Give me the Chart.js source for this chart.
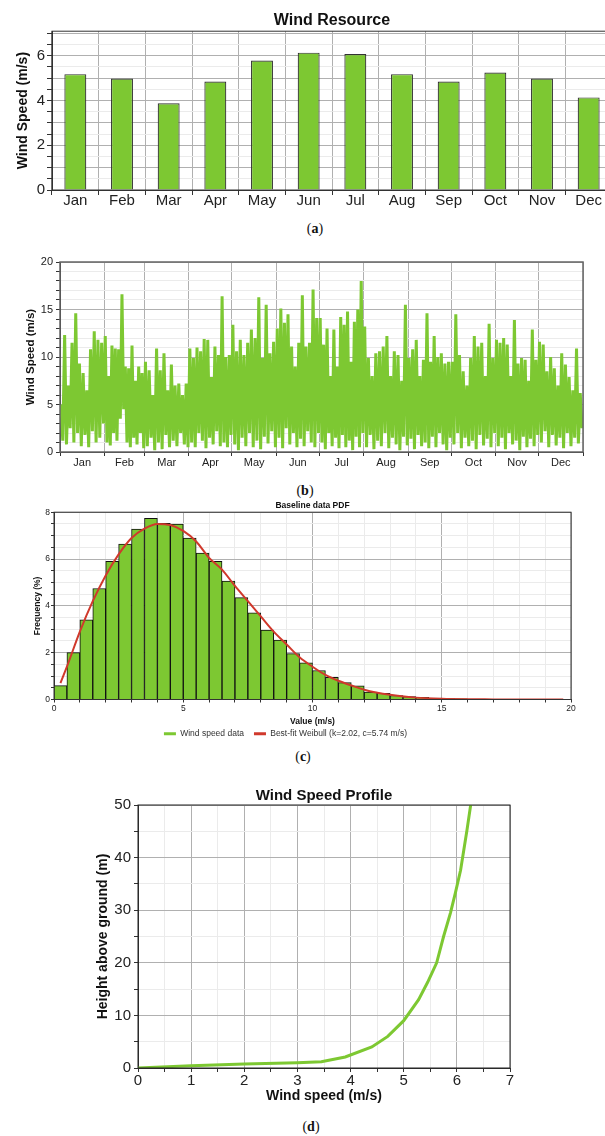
<!DOCTYPE html>
<html lang="en">
<head>
<meta charset="UTF-8">
<title>Wind resource</title>
<script src="https://cdn.jsdelivr.net/npm/chart.js@4.4.1/dist/chart.umd.min.js"></script>
<style>
    html, body { margin: 0; padding: 0; background: #fff; overflow: hidden; }
    body { width: 605px; height: 1136px; position: relative; }
    canvas { position: absolute; }
    .cap { position: absolute; transform: translateX(-50%); font: 14px "Liberation Serif", "DejaVu Serif", serif; color: #111; line-height: 18px; }
</style>
</head>
<body>
<canvas id="chartA" width="614" height="215" style="left:0;top:0"></canvas>
<div class="cap" style="left:315px;top:220px">(<b>a</b>)</div>
<canvas id="chartB" width="605" height="225" style="left:0;top:252px"></canvas>
<div class="cap" style="left:305px;top:482px">(<b>b</b>)</div>
<canvas id="chartC" width="605" height="253" style="left:0;top:495px"></canvas>
<div class="cap" style="left:303px;top:748px">(<b>c</b>)</div>
<canvas id="chartD" width="525" height="325" style="left:80px;top:780px"></canvas>
<div class="cap" style="left:311px;top:1118px">(<b>d</b>)</div>
<script>
    // (a) monthly mean wind speed
    var months = ['Jan', 'Feb', 'Mar', 'Apr', 'May', 'Jun', 'Jul', 'Aug', 'Sep', 'Oct', 'Nov', 'Dec'];
    var monthlyMean = [5.18, 4.98, 3.88, 4.85, 5.79, 6.14, 6.08, 5.18, 4.85, 5.25, 4.98, 4.14];

    // (b) time series, peaks and troughs read per month
    var monthStartDay = [0, 31, 59, 90, 120, 151, 181, 212, 243, 273, 304, 334, 365];
    var hourlySpeed = [
        [5, 1.2, 12.3, 0.8, 7, 2.5, 11.5, 1.0, 14.6, 2.0, 9.3, 0.6, 8.3, 1.8, 6.5, 0.5, 10.8, 2.2, 12.7, 1.0, 11.8, 1.5, 11.5, 3.0],
        [12.2, 1.0, 8, 0.7, 11.2, 2.0, 10.9, 1.2, 10.8, 3.5, 16.6, 4.5, 9, 1.0, 8.8, 0.5, 11.2, 1.5, 7.5, 0.8, 9.0, 2.0, 8.3, 0.4],
        [9.5, 0.6, 8.6, 1.5, 6, 0.2, 10.9, 1.0, 8.6, 0.3, 10.4, 1.8, 6.5, 0.5, 9.2, 1.2, 7.0, 0.6, 7.2, 2.0, 6, 0.8, 7.2, 0.5],
        [10.9, 1.0, 9.9, 0.5, 11.0, 2.0, 10.6, 1.2, 11.9, 0.4, 11.8, 1.5, 7.9, 0.8, 11.1, 2.2, 10.2, 0.6, 16.4, 1.0, 10.0, 0.5, 10.2, 1.8],
        [13.4, 0.8, 10.6, 0.2, 11.8, 1.5, 10.2, 0.6, 11.5, 2.0, 12.9, 0.5, 12.0, 1.2, 16.3, 0.3, 9.9, 1.6, 15.5, 0.9, 10.4, 2.2, 11.6, 0.5],
        [13.0, 1.5, 15.1, 0.4, 13.6, 2.5, 14.5, 0.8, 11.1, 2.0, 9, 0.5, 11.5, 1.4, 16.5, 0.6, 11.1, 2.2, 11.5, 1.0, 17.1, 0.5, 14.1, 2.0],
        [14.1, 1.0, 11.3, 0.3, 13.0, 2.0, 8, 0.6, 12.9, 1.5, 9, 0.4, 14.2, 1.8, 13.4, 0.5, 14.8, 1.2, 9.5, 0.2, 13.7, 1.6, 15.0, 0.5, 18.0, 2.0],
        [13.2, 0.5, 9.9, 1.8, 8, 0.3, 10.4, 1.2, 10.6, 0.6, 11.1, 2.0, 12.2, 0.4, 8, 1.5, 10.6, 0.8, 10.2, 0.2, 7.5, 1.6, 15.5, 0.7],
        [9.9, 1.4, 10.8, 0.3, 11.8, 1.8, 8, 0.6, 9.7, 1.0, 14.6, 0.4, 9.5, 1.6, 12.2, 0.5, 10.0, 2.0, 10.4, 0.8, 9.3, 0.2, 9.5, 1.5],
        [9.5, 0.8, 14.5, 2.0, 10.2, 0.4, 8.5, 1.5, 7, 0.6, 9.9, 1.2, 12.2, 0.3, 11.1, 1.8, 11.5, 0.7, 8, 1.4, 13.5, 0.5, 9.9, 2.0],
        [11.8, 0.6, 11.5, 1.5, 12.0, 0.3, 11.3, 2.0, 8, 0.8, 13.9, 1.2, 9.3, 0.2, 9.9, 1.6, 9.7, 0.5, 7.5, 1.4, 12.9, 0.6, 9.7, 1.8],
        [11.6, 1.0, 11.3, 2.2, 8.5, 0.5, 10.0, 1.8, 8.8, 0.7, 7, 1.5, 10.4, 0.4, 9.2, 2.0, 7.9, 0.6, 6.5, 1.5, 10.9, 0.9, 6.2, 2.5]
    ];

    // (c) histogram, 0.5 m/s bins from 0
    var binWidth = 0.5;
    var histFreq = [0.59, 2.0, 3.4, 4.74, 5.9, 6.64, 7.28, 7.74, 7.52, 7.49, 6.89, 6.25, 5.9, 5.06, 4.35, 3.7, 2.97, 2.54, 1.96, 1.57,
        1.24, 0.95, 0.72, 0.58, 0.32, 0.26, 0.17, 0.12, 0.09, 0.06, 0.04, 0.03, 0.02, 0.02];
    var weibullX = [0.25, 0.5, 1, 1.5, 2, 2.5, 3, 3.5, 4, 4.5, 5, 5.5, 6, 6.5, 7, 7.5, 8, 8.5, 9, 9.5, 10, 10.5, 11, 11.5, 12, 13, 14, 15, 16, 17, 18, 19.7];
    var weibullY = [0.7, 1.4, 2.9, 4.2, 5.3, 6.2, 6.9, 7.3, 7.5, 7.45, 7.2, 6.75, 6.05, 5.55, 4.85, 4.2, 3.55, 2.9, 2.35, 1.8, 1.4, 1.05, 0.8, 0.6, 0.42, 0.2, 0.08, 0.03, 0.01, 0.005, 0, 0];

    // (d) vertical profile
    var profSpeed = [0, 1, 2, 3, 3.45, 3.9, 4.4, 4.7, 5.0, 5.28, 5.45, 5.62, 5.75, 5.88, 5.97, 6.07, 6.13, 6.19, 6.26];
    var profHeight = [0, 0.45, 0.75, 1.0, 1.2, 2.1, 4.0, 6.0, 9.0, 13.0, 16.3, 20.0, 25.0, 29.5, 33.2, 37.6, 41.4, 45.2, 50];

    var GREEN = '#7dc832';
    var RED = '#d0392c';
    Chart.defaults.font.family = '"Liberation Sans", Arial, sans-serif';

    var frame = {
        id: 'frame',
        afterDraw: function (chart, args, opts) {
            var a = chart.chartArea, ctx = chart.ctx;
            ctx.save();
            ctx.strokeStyle = opts.color;
            ctx.lineWidth = opts.width;
            ctx.strokeRect(a.left, a.top, a.right - a.left, a.bottom - a.top);
            ctx.restore();
        }
    };

    function isMult(v, m) { return Math.abs(v / m - Math.round(v / m)) < 1e-6; }
    function gridBy(m) {
        return function (c) { return (c.tick && isMult(c.tick.value, m)) ? '#b0b0b0' : '#ebebeb'; };
    }
    function labelBy(m) { return function (v) { return isMult(v, m) ? v : ''; }; }

    // (a)
    new Chart(document.getElementById('chartA'), {
        type: 'bar',
        data: {
            labels: months,
            datasets: [{
                label: 'Wind Speed', data: monthlyMean, backgroundColor: GREEN, borderColor: '#333',
                borderWidth: 1.2, barPercentage: 0.47, categoryPercentage: 1
            }]
        },
        options: {
            responsive: false, animation: false,
            layout: { padding: { top: 0, right: 2, bottom: 0, left: 0 } },
            plugins: {
                legend: { display: false }, tooltip: { enabled: false },
                title: { display: true, text: 'Wind Resource', fullSize: false, color: '#111', font: { size: 16, weight: 'bold' }, padding: { top: 11, bottom: 1 } },
                frame: { color: '#333', width: 1 }
            },
            scales: {
                x: {
                    offset: true,
                    grid: { offset: true, color: '#b0b0b0', tickColor: '#333', tickLength: 5 },
                    border: { color: '#333' },
                    ticks: { font: { size: 15 }, color: '#222', padding: -3, maxRotation: 0 },
                    afterFit: function (s) { s.height = 25; }
                },
                y: {
                    min: 0, max: 7.1,
                    grid: { color: gridBy(1), tickColor: '#333', tickLength: 5 },
                    border: { color: '#333' },
                    ticks: { stepSize: 0.5, includeBounds: false, autoSkip: false, font: { size: 15 }, color: '#222', padding: 2, callback: labelBy(2) },
                    title: { display: true, text: 'Wind Speed (m/s)', color: '#111', font: { size: 14, weight: 'bold' }, padding: { top: 15, bottom: 0 } },
                    afterFit: function (s) { s.width = 52; }
                }
            }
        },
        plugins: [frame]
    });

    // (b)
    var tsPoints = [];
    hourlySpeed.forEach(function (vals, m) {
        var d0 = monthStartDay[m], len = monthStartDay[m + 1] - d0;
        vals.forEach(function (v, j) { tsPoints.push({ x: d0 + (j + 0.5) * len / vals.length, y: v }); });
    });
    var monthMid = months.map(function (_, i) { return (monthStartDay[i] + monthStartDay[i + 1]) / 2; });
    function isBoundary(c) { return c.tick && monthStartDay.indexOf(c.tick.value) >= 0; }

    new Chart(document.getElementById('chartB'), {
        type: 'line',
        data: { datasets: [{ data: tsPoints, borderColor: GREEN, borderWidth: 3, pointRadius: 0, tension: 0 }] },
        options: {
            responsive: false, animation: false,
            layout: { padding: { top: 10, right: 22, bottom: 0, left: 0 } },
            plugins: { legend: { display: false }, tooltip: { enabled: false }, frame: { color: '#666', width: 1.5 } },
            scales: {
                x: {
                    type: 'linear', min: 0, max: 365,
                    afterBuildTicks: function (s) {
                        s.ticks = monthStartDay.concat(monthMid).sort(function (a, b) { return a - b; })
                            .map(function (v) { return { value: v }; });
                    },
                    grid: {
                        color: function (c) { return isBoundary(c) ? '#b0b0b0' : 'rgba(0,0,0,0)'; },
                        tickColor: function (c) { return isBoundary(c) ? '#333' : 'rgba(0,0,0,0)'; },
                        tickLength: 4
                    },
                    border: { color: '#333' },
                    ticks: {
                        autoSkip: false, maxRotation: 0, font: { size: 11 }, color: '#222', padding: 0,
                        callback: function (v) { var i = monthMid.indexOf(v); return i >= 0 ? months[i] : ''; }
                    },
                    afterFit: function (s) { s.height = 25; }
                },
                y: {
                    min: 0, max: 20,
                    grid: { color: gridBy(5), tickColor: '#333', tickLength: 4 },
                    border: { color: '#333' },
                    ticks: { stepSize: 1, autoSkip: false, font: { size: 11 }, color: '#222', padding: 3, callback: labelBy(5) },
                    title: { display: true, text: 'Wind Speed (m/s)', color: '#111', font: { size: 11.5, weight: 'bold' }, padding: { top: 24, bottom: 0 } },
                    afterFit: function (s) { s.width = 60; }
                }
            }
        },
        plugins: [frame]
    });

    // (c)
    var histData = histFreq.map(function (f, i) { return { x: (i + 0.5) * binWidth, y: f }; });
    var fitData = weibullX.map(function (x, i) { return { x: x, y: weibullY[i] }; });
    new Chart(document.getElementById('chartC'), {
        type: 'bar',
        data: {
            datasets: [
                { label: 'Wind speed data', data: histData, backgroundColor: GREEN, borderColor: '#111', borderWidth: 1, barPercentage: 1, categoryPercentage: 1, order: 2 },
                { type: 'line', label: 'Best-fit Weibull (k=2.02, c=5.74 m/s)', data: fitData, borderColor: RED, borderWidth: 2, pointRadius: 0, cubicInterpolationMode: 'monotone', order: 1 }
            ]
        },
        options: {
            responsive: false, animation: false,
            layout: { padding: { top: 0, right: 34, bottom: 0, left: 0 } },
            plugins: {
                tooltip: { enabled: false },
                title: { display: true, text: 'Baseline data PDF', fullSize: false, color: '#111', font: { size: 8.5, weight: 'bold' }, padding: { top: 6, bottom: 1 } },
                legend: {
                    position: 'bottom',
                    labels: {
                        usePointStyle: true, pointStyleWidth: 12, padding: 10, color: '#333', font: { size: 8.5 },
                        sort: function (a, b) { return a.datasetIndex - b.datasetIndex; },
                        generateLabels: function (chart) {
                            return Chart.defaults.plugins.legend.labels.generateLabels(chart).map(function (it) {
                                var c = it.datasetIndex ? RED : GREEN;
                                it.pointStyle = 'line';
                                it.strokeStyle = c;
                                it.fillStyle = c;
                                it.lineWidth = 3;
                                return it;
                            });
                        }
                    }
                },
                frame: { color: '#333', width: 1 }
            },
            scales: {
                x: {
                    type: 'linear', min: 0, max: 20, offset: false,
                    grid: { offset: false, color: gridBy(5), tickColor: '#333', tickLength: 3 },
                    border: { color: '#333' },
                    ticks: { stepSize: 1, autoSkip: false, maxRotation: 0, font: { size: 8.5 }, color: '#222', padding: 1, callback: labelBy(5) },
                    title: { display: true, text: 'Value (m/s)', color: '#111', font: { size: 8.5, weight: 'bold' }, padding: { top: 0, bottom: -7 } },
                    afterFit: function (s) { s.height = 20; }
                },
                y: {
                    min: 0, max: 8,
                    grid: { color: gridBy(2), tickColor: '#333', tickLength: 3 },
                    border: { color: '#333' },
                    ticks: { stepSize: 0.5, autoSkip: false, font: { size: 8.5 }, color: '#222', padding: 1, callback: labelBy(2) },
                    title: { display: true, text: 'Frequency (%)', color: '#111', font: { size: 8.5, weight: 'bold' }, padding: { top: 33, bottom: 0 } },
                    afterFit: function (s) { s.width = 54; }
                }
            }
        },
        plugins: [frame]
    });

    // (d)
    new Chart(document.getElementById('chartD'), {
        type: 'scatter',
        data: {
            datasets: [{
                data: profSpeed.map(function (s, i) { return { x: s, y: profHeight[i] }; }),
                showLine: true, borderColor: GREEN, borderWidth: 3, pointRadius: 0, tension: 0
            }]
        },
        options: {
            responsive: false, animation: false,
            layout: { padding: { top: 0, right: 95, bottom: 0, left: 0 } },
            plugins: {
                legend: { display: false }, tooltip: { enabled: false },
                title: { display: true, text: 'Wind Speed Profile', fullSize: false, color: '#111', font: { size: 15, weight: 'bold' }, padding: { top: 7, bottom: 0 } },
                frame: { color: '#222', width: 1 }
            },
            scales: {
                x: {
                    type: 'linear', min: 0, max: 7,
                    grid: { color: gridBy(1), tickColor: '#333', tickLength: 4 },
                    border: { color: '#333' },
                    ticks: { stepSize: 0.5, autoSkip: false, maxRotation: 0, font: { size: 15 }, color: '#222', padding: 0, callback: labelBy(1) },
                    title: { display: true, text: 'Wind speed (m/s)', color: '#111', font: { size: 14, weight: 'bold' }, padding: { top: 0, bottom: 0 } },
                    afterFit: function (s) { s.height = 37; }
                },
                y: {
                    min: 0, max: 50,
                    grid: { color: gridBy(10), tickColor: '#333', tickLength: 4 },
                    border: { color: '#333' },
                    ticks: { stepSize: 5, autoSkip: false, font: { size: 15 }, color: '#222', padding: 3, callback: labelBy(10) },
                    title: { display: true, text: 'Height above ground (m)', color: '#111', font: { size: 14, weight: 'bold' }, padding: { top: 14.6, bottom: 0 } },
                    afterFit: function (s) { s.width = 58; }
                }
            }
        },
        plugins: [frame]
    });
</script>
</body>
</html>
